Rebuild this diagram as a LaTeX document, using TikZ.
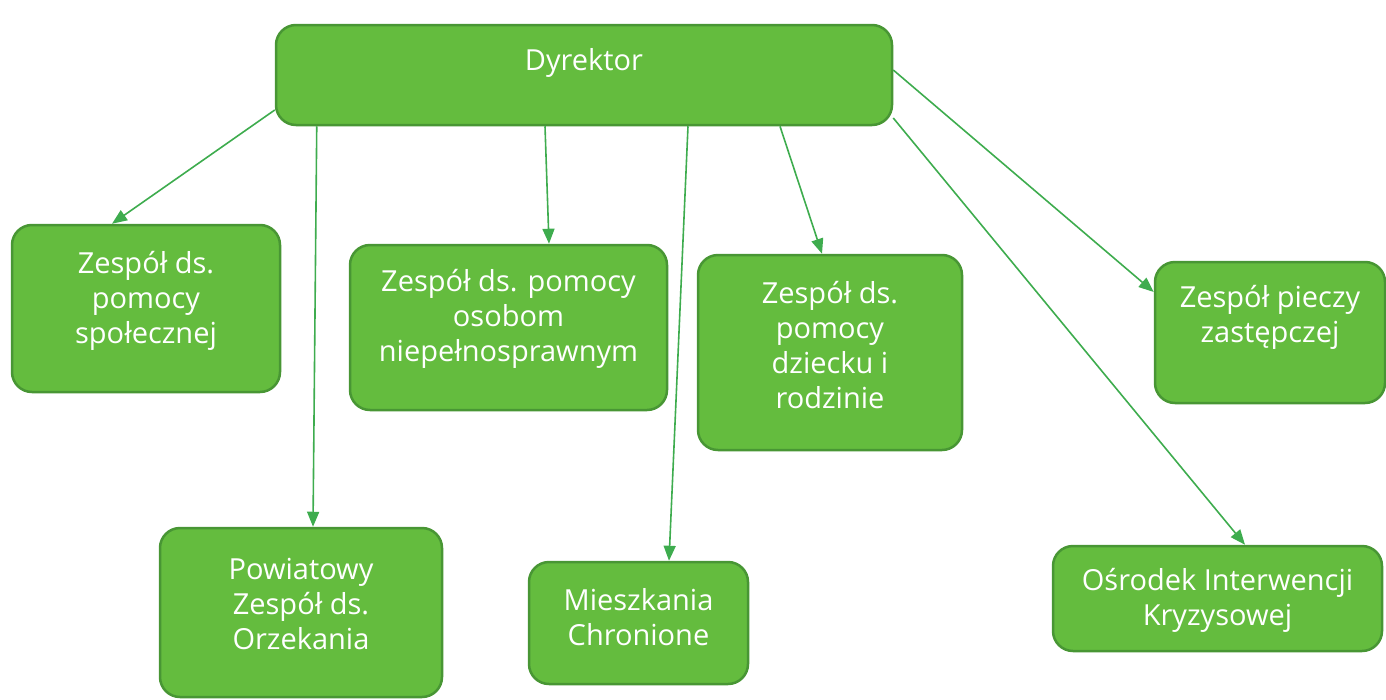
\documentclass[tikz,border=0pt]{standalone}
\usepackage{fontspec}
\setmainfont{Open Sans}
\usetikzlibrary{arrows.meta}
\definecolor{boxfill}{RGB}{100,188,62}
\definecolor{boxdraw}{RGB}{72,150,52}
\definecolor{arrcol}{RGB}{62,172,78}
\tikzset{
  unit/.style={draw=boxdraw, line width=2.5pt, fill=boxfill, rounded corners=20pt, inner sep=0pt},
  txt/.style={text=white, align=center, inner sep=0pt, font=\fontsize{29}{35}\selectfont},
  arr/.style={draw=arrcol, line width=1.6pt, -{Triangle[length=15pt,width=12pt]}}
}
\begin{document}
\begin{tikzpicture}[x=1pt,y=-1pt]
\useasboundingbox (0,0) rectangle (1386,699);
\node[unit, minimum width=616pt, minimum height=100pt] (dyr) at (584,75) {};
\node[unit, minimum width=268pt, minimum height=167pt] (a) at (146,308.5) {};
\node[unit, minimum width=317pt, minimum height=165pt] (b) at (508.5,327.5) {};
\node[unit, minimum width=264pt, minimum height=195pt] (c) at (830,352.5) {};
\node[unit, minimum width=230pt, minimum height=141pt] (d) at (1270,332.5) {};
\node[unit, minimum width=282pt, minimum height=169pt] (e) at (301,612.5) {};
\node[unit, minimum width=219pt, minimum height=122pt] (f) at (638.5,623) {};
\node[unit, minimum width=329pt, minimum height=105pt] (g) at (1217.5,598.5) {};
\node[txt] (dyr-t) at ([yshift=12pt]dyr.center) {Dyrektor};
\node[txt] (a-t) at ([yshift=8pt]a.center) {Zespół ds.\\pomocy\\społecznej};
\node[txt] (b-t) at ([yshift=9pt]b.center) {Zespół ds. pomocy\\osobom\\niepełnosprawnym};
\node[txt] (c-t) at ([yshift=7pt]c.center) {Zespół ds.\\pomocy\\dziecku i\\rodzinie};
\node[txt] (d-t) at ([yshift=15pt]d.center) {Zespół pieczy\\zastępczej};
\node[txt] (e-t) at ([yshift=9pt]e.center) {Powiatowy\\Zespół ds.\\Orzekania};
\node[txt] (f-t) at ([yshift=6pt]f.center) {Mieszkania\\Chronione};
\node[txt] (g-t) at ([yshift=-2pt]g.center) {Ośrodek Interwencji\\Kryzysowej};
\draw[arr] ([yshift=-35pt]dyr.west) -- ([xshift=-34pt]a.north);
\draw[arr] ([xshift=42pt]dyr.south west) -- ([xshift=12pt]e.north);
\draw[arr] ([xshift=-39pt]dyr.south) -- ([xshift=40.5pt]b.north);
\draw[arr] ([xshift=104pt]dyr.south) -- ([xshift=30.5pt]f.north);
\draw[arr] ([xshift=196pt]dyr.south) -- ([xshift=-8pt]c.north);
\draw[arr] ([yshift=-43pt]dyr.east) -- ([xshift=27.5pt]g.north);
\draw[arr] ([yshift=5pt]dyr.east) -- ([yshift=40.5pt]d.west);
\end{tikzpicture}
\end{document}
